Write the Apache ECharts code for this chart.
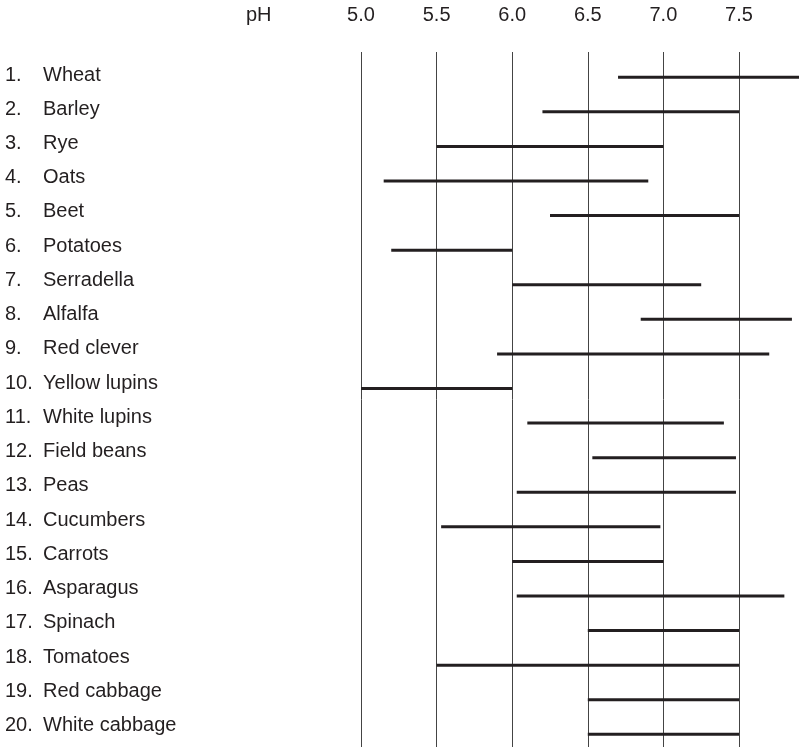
<!DOCTYPE html>
<html>
<head>
<meta charset="utf-8">
<script src="https://cdn.jsdelivr.net/npm/echarts@6/dist/echarts.min.js"></script>
<style>
html,body{margin:0;padding:0;background:#fff;}
#c{width:799px;height:747px;}
</style>
</head>
<body>
<div id="c"></div>
<script>
const categories = ['Wheat','Barley','Rye','Oats','Beet','Potatoes','Serradella','Alfalfa','Red clever','Yellow lupins','White lupins','Field beans','Peas','Cucumbers','Carrots','Asparagus','Spinach','Tomatoes','Red cabbage','White cabbage'];
const phLow  = [6.70, 6.20, 5.50, 5.15, 6.25, 5.20, 6.00, 6.85, 5.90, 5.00, 6.10, 6.53, 6.03, 5.53, 6.00, 6.03, 6.50, 5.50, 6.50, 6.50];
const phHigh = [7.90, 7.50, 7.00, 6.90, 7.50, 6.00, 7.25, 7.85, 7.70, 6.00, 7.40, 7.48, 7.48, 6.98, 7.00, 7.80, 7.50, 7.50, 7.50, 7.50];
const axisTitle = 'pH';

const FONT = '"Liberation Sans", Arial, Helvetica, sans-serif';
const chart = echarts.init(document.getElementById('c'), null, {renderer: 'canvas'});
const gl = 361, gw = 453.6;
const option = {
  backgroundColor: '#ffffff',
  animation: false,
  title: {
    text: axisTitle, left: 241, top: 0,
    textStyle: {fontFamily: FONT, fontSize: 20, fontWeight: 'normal', color: '#231f20'}
  },
  grid: [
    {left: gl, width: gw, top: 52, bottom: 0, outerBoundsMode: 'none', containLabel: false},
    {left: gl, width: gw, top: 60, height: 691.6, outerBoundsMode: 'none', containLabel: false},
    {left: gl, width: gw, top: 57.9, height: 684.8, outerBoundsMode: 'none', containLabel: false}
  ],
  xAxis: [
    {gridIndex: 0, type: 'value', min: 5, max: 8, interval: 0.5, position: 'top',
      axisLine: {show: false}, axisTick: {show: false},
      axisLabel: {show: true, margin: 27, showMaxLabel: false, fontFamily: FONT, fontSize: 20, color: '#231f20',
        formatter: v => v.toFixed(1)},
      splitLine: {show: true, lineStyle: {color: '#444', width: 1}}},
    {gridIndex: 1, type: 'value', min: 5, max: 8, show: false, splitLine: {show: false}},
    {gridIndex: 2, type: 'value', min: 5, max: 8, show: false, splitLine: {show: false}}
  ],
  yAxis: [
    {gridIndex: 0, type: 'value', show: false, splitLine: {show: false}},
    {gridIndex: 1, type: 'category', data: categories, inverse: true, show: false},
    {gridIndex: 2, type: 'category', data: categories, inverse: true,
      axisLine: {show: false}, axisTick: {show: false}, splitLine: {show: false},
      axisLabel: {show: true, align: 'left', margin: gl - 5, interval: 0,
        formatter: (v, i) => '{n|' + (i + 1) + '.}{t|' + v + '}',
        rich: {
          n: {width: 38, fontFamily: FONT, fontSize: 20, color: '#231f20'},
          t: {fontFamily: FONT, fontSize: 20, color: '#231f20'}
        }}}
  ],
  series: [{
    type: 'custom',
    xAxisIndex: 1, yAxisIndex: 1,
    clip: false,
    data: categories.map((c, i) => [i, phLow[i], phHigh[i]]),
    encode: {x: [1, 2], y: 0},
    renderItem: function (params, api) {
      const a = api.coord([api.value(1), api.value(0)]);
      const b = api.coord([api.value(2), api.value(0)]);
      return {
        type: 'line',
        shape: {x1: a[0], y1: a[1], x2: b[0], y2: b[1]},
        style: {stroke: '#231f20', lineWidth: 3, lineCap: 'butt'}
      };
    }
  }]
};
chart.setOption(option);
</script>
</body>
</html>
